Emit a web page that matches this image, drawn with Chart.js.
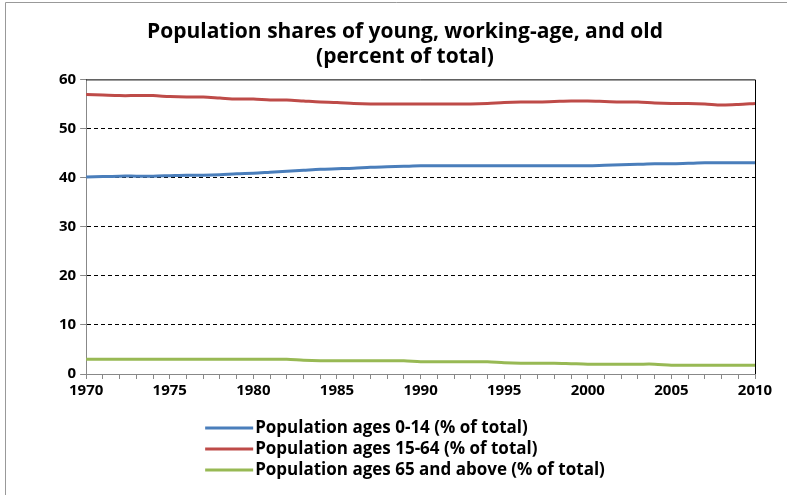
<!DOCTYPE html>
<html>
<head>
<meta charset="utf-8">
<script src="https://cdn.jsdelivr.net/npm/chart.js@4"></script>
<style>
  html, body { margin: 0; padding: 0; background: #fff; }
</style>
</head>
<body>
<canvas id="myChart" width="787" height="495"></canvas>
<script>
const years = [];
for (let y = 1970; y <= 2010; y++) years.push(String(y));

const ages0to14 = [
  40.1, 40.2, 40.3, 40.3, 40.3, 40.4, 40.5, 40.5, 40.6, 40.8,
  40.9, 41.1, 41.3, 41.5, 41.7, 41.8, 41.9, 42.1, 42.2, 42.3,
  42.4, 42.4, 42.4, 42.4, 42.4, 42.4, 42.4, 42.4, 42.4, 42.4,
  42.4, 42.5, 42.6, 42.7, 42.8, 42.8, 42.9, 43.0, 43.0, 43.0, 43.0
];
const ages15to64 = [
  56.9, 56.8, 56.7, 56.7, 56.7, 56.5, 56.4, 56.4, 56.2, 56.0,
  56.0, 55.8, 55.8, 55.6, 55.4, 55.3, 55.1, 55.0, 55.0, 55.0,
  55.0, 55.0, 55.0, 55.0, 55.1, 55.3, 55.4, 55.4, 55.5, 55.6,
  55.6, 55.5, 55.4, 55.4, 55.2, 55.1, 55.1, 55.0, 54.8, 54.9, 55.1
];
const ages65plus = [
  3.0, 3.0, 3.0, 3.0, 3.0, 3.0, 3.0, 3.0, 3.0, 3.0,
  3.0, 3.0, 3.0, 2.8, 2.7, 2.7, 2.7, 2.7, 2.7, 2.7,
  2.5, 2.5, 2.5, 2.5, 2.5, 2.3, 2.2, 2.2, 2.2, 2.1,
  2.0, 2.0, 2.0, 2.0, 2.0, 1.8, 1.8, 1.8, 1.8, 1.8, 1.8
];
const yTicks = [0, 10, 20, 30, 40, 50, 60];

const FONT = "'Open Sans', sans-serif";

// plot frame (top + right in black) and outer grey border
const frame = {
  id: "frame",
  afterDatasetsDraw(chart) {
    const { ctx, chartArea: a } = chart;
    ctx.save();
    ctx.strokeStyle = "#000";
    ctx.lineWidth = 1;
    ctx.beginPath();
    ctx.moveTo(a.left, a.top + 0.5);
    ctx.lineTo(a.right + 0.5, a.top + 0.5);
    ctx.lineTo(a.right + 0.5, a.bottom);
    ctx.stroke();
    ctx.strokeStyle = "#999";
    ctx.beginPath();
    ctx.moveTo(5.5, chart.height);
    ctx.lineTo(5.5, 2.5);
    ctx.lineTo(chart.width, 2.5);
    ctx.stroke();
    ctx.restore();
  }
};

// one legend entry per row, like the original
const stackedLegend = {
  id: "stackedLegend",
  afterDraw(chart) {
    const { ctx, chartArea: a } = chart;
    const x0 = a.left + 119;
    const y0 = a.bottom + 54;
    ctx.save();
    ctx.font = "bold 17px " + FONT;
    ctx.textBaseline = "middle";
    ctx.fillStyle = "#000";
    chart.data.datasets.forEach((ds, i) => {
      const y = y0 + i * 21;
      ctx.strokeStyle = ds.borderColor;
      ctx.lineWidth = 3;
      ctx.beginPath();
      ctx.moveTo(x0, y);
      ctx.lineTo(x0 + 48, y);
      ctx.stroke();
      ctx.fillText(ds.label, x0 + 50, y);
    });
    ctx.restore();
  }
};

const ctx = document.querySelector("#myChart");

const myChart = new Chart(ctx, {
  type: "line",
  data: {
    labels: years,
    datasets: [
      {
        label: "Population ages 0-14 (% of total)",
        data: ages0to14,
        borderColor: "#4a7ebb",
        borderWidth: 3,
        pointRadius: 0,
        tension: 0.3,
      },
      {
        label: "Population ages 15-64 (% of total)",
        data: ages15to64,
        borderColor: "#be4b48",
        borderWidth: 3,
        pointRadius: 0,
        tension: 0.3,
      },
      {
        label: "Population ages 65 and above (% of total)",
        data: ages65plus,
        borderColor: "#98b954",
        borderWidth: 3,
        pointRadius: 0,
        tension: 0.3,
      },
    ],
  },
  options: {
    responsive: false,
    animation: false,
    layout: { padding: { left: 55, right: 32, top: 0, bottom: 92 } },
    plugins: {
      legend: { display: false },
      tooltip: { enabled: false },
      title: {
        display: true,
        text: ["Population shares of young, working-age, and old", "(percent of total)"],
        color: "#000",
        font: { family: FONT, size: 21, weight: "bold", lineHeight: 1.2 },
        padding: { top: 19, bottom: 10 },
      },
    },
    scales: {
      x: {
        offset: false,
        grid: {
          drawOnChartArea: false,
          drawTicks: true,
          tickLength: 5,
          tickColor: "#888",
        },
        border: { color: "#888", width: 1 },
        ticks: {
          autoSkip: false,
          maxRotation: 0,
          color: "#000",
          padding: 3,
          font: { family: FONT, size: 15, weight: "bold" },
          callback: function (value) {
            const lbl = this.getLabelForValue(value);
            return Number(lbl) % 5 === 0 ? lbl : "";
          },
        },
      },
      y: {
        min: 0,
        max: 60,
        afterBuildTicks: (scale) => {
          scale.ticks = yTicks.map((v) => ({ value: v }));
        },
        grid: {
          color: (c) => (c.tick && (c.tick.value === 0 || c.tick.value === 60) ? "rgba(0,0,0,0)" : "#000"),
          tickColor: "#888",
          tickLength: 6,
        },
        border: { color: "#888", width: 1, dash: [4, 3] },
        ticks: {
          color: "#000",
          padding: 4,
          font: { family: FONT, size: 15, weight: "bold" },
        },
      },
    },
  },
  plugins: [frame, stackedLegend],
});
</script>
</body>
</html>
